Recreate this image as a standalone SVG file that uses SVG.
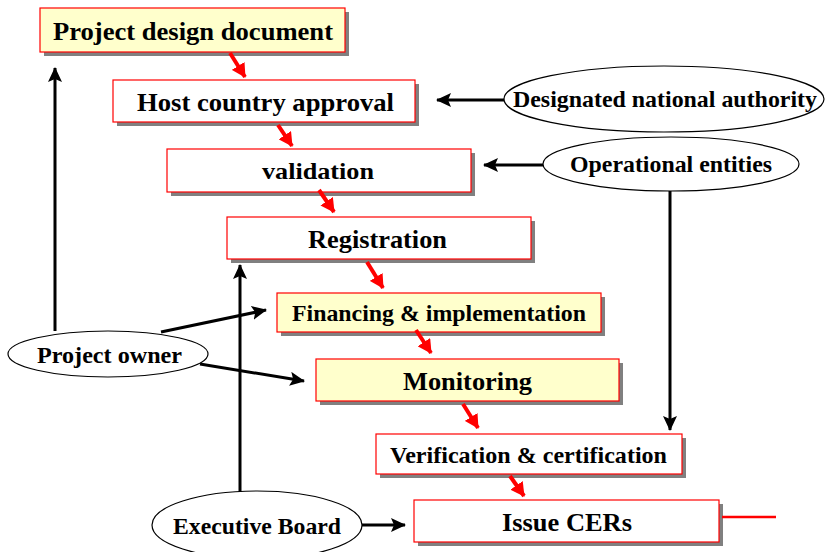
<svg xmlns="http://www.w3.org/2000/svg" width="825" height="552" viewBox="0 0 825 552">
  <style>
    .shadow { fill: #808080; }
    .box { stroke: #ff0000; stroke-width: 1.2; }
    .plain { fill: #ffffff; }
    .hi { fill: #ffffcc; }
    .oval { fill: #ffffff; stroke: #000000; stroke-width: 1.2; }
    text { font-family: "Liberation Serif", "Times New Roman", serif; font-weight: bold; fill: #000000; text-anchor: middle; }
    .blk { stroke: #000000; stroke-width: 3; fill: none; }
    .red { stroke: #ff0000; stroke-width: 4; fill: none; }
  </style>
  <defs>
    <marker id="ahBlack" viewBox="0 0 15 14" markerWidth="15" markerHeight="14" refX="14" refY="7" orient="auto" markerUnits="userSpaceOnUse">
      <path d="M0,0 L15,7 L0,14 L3,7 Z" fill="#000000"/>
    </marker>
    <marker id="ahRed" viewBox="0 0 14 15" markerWidth="14" markerHeight="15" refX="13" refY="7.5" orient="auto" markerUnits="userSpaceOnUse">
      <path d="M0,0 L14,7.5 L0,15 Z" fill="#ff0000"/>
    </marker>
  </defs>

  <!-- process boxes -->
  <g id="pdd">
    <rect class="shadow" x="44" y="12" width="305" height="44"/>
    <rect class="box hi" x="40" y="8" width="305" height="44"/>
    <text x="193" y="40" font-size="26" textLength="280" lengthAdjust="spacingAndGlyphs">Project design document</text>
  </g>
  <g id="host">
    <rect class="shadow" x="117" y="84" width="302" height="42"/>
    <rect class="box plain" x="113" y="80" width="302" height="42"/>
    <text x="265.5" y="111" font-size="26" textLength="257" lengthAdjust="spacingAndGlyphs">Host country approval</text>
  </g>
  <g id="validation">
    <rect class="shadow" x="171" y="153" width="304" height="43"/>
    <rect class="box plain" x="167" y="149" width="304" height="43"/>
    <text x="318" y="179" font-size="24" textLength="112" lengthAdjust="spacingAndGlyphs">validation</text>
  </g>
  <g id="registration">
    <rect class="shadow" x="231" y="221" width="304" height="42"/>
    <rect class="box plain" x="227" y="217" width="304" height="42"/>
    <text x="377.5" y="248" font-size="25" textLength="139" lengthAdjust="spacingAndGlyphs">Registration</text>
  </g>
  <g id="financing">
    <rect class="shadow" x="281" y="297" width="324" height="39"/>
    <rect class="box hi" x="277" y="293" width="324" height="39"/>
    <text x="439" y="321" font-size="23" textLength="294" lengthAdjust="spacingAndGlyphs">Financing &amp; implementation</text>
  </g>
  <g id="monitoring">
    <rect class="shadow" x="320" y="363" width="303" height="42"/>
    <rect class="box hi" x="316" y="359" width="303" height="42"/>
    <text x="467.5" y="390" font-size="26" textLength="129" lengthAdjust="spacingAndGlyphs">Monitoring</text>
  </g>
  <g id="verification">
    <rect class="shadow" x="380" y="438" width="306" height="40"/>
    <rect class="box plain" x="376" y="434" width="306" height="40"/>
    <text x="528.5" y="463" font-size="23" textLength="277" lengthAdjust="spacingAndGlyphs">Verification &amp; certification</text>
  </g>
  <g id="issue">
    <rect class="shadow" x="418" y="504" width="305" height="42"/>
    <rect class="box plain" x="414" y="500" width="305" height="42"/>
    <text x="567" y="531" font-size="26" textLength="130" lengthAdjust="spacingAndGlyphs">Issue CERs</text>
  </g>

  <!-- actors -->
  <g id="dna">
    <ellipse class="oval" cx="664" cy="99" rx="160" ry="33"/>
    <text x="665" y="107" font-size="23" textLength="304" lengthAdjust="spacingAndGlyphs">Designated national authority</text>
  </g>
  <g id="oe">
    <ellipse class="oval" cx="671" cy="164" rx="128" ry="27"/>
    <text x="671" y="172" font-size="23.5" textLength="202" lengthAdjust="spacingAndGlyphs">Operational entities</text>
  </g>
  <g id="owner">
    <ellipse class="oval" cx="108" cy="354" rx="100" ry="23"/>
    <text x="109.5" y="363" font-size="23" textLength="145" lengthAdjust="spacingAndGlyphs">Project owner</text>
  </g>
  <g id="board">
    <ellipse class="oval" cx="257" cy="525" rx="105" ry="34"/>
    <text x="257" y="534" font-size="23" textLength="168" lengthAdjust="spacingAndGlyphs">Executive Board</text>
  </g>

  <!-- connectors -->
  <g id="connectors">
    <line class="red" x1="230" y1="53" x2="245" y2="77" marker-end="url(#ahRed)"/>
    <line class="red" x1="278" y1="125" x2="292" y2="146" marker-end="url(#ahRed)"/>
    <line class="red" x1="319" y1="190" x2="334" y2="212" marker-end="url(#ahRed)"/>
    <line class="red" x1="367" y1="262" x2="383" y2="288" marker-end="url(#ahRed)"/>
    <line class="red" x1="416" y1="330" x2="431" y2="353" marker-end="url(#ahRed)"/>
    <line class="red" x1="463" y1="404" x2="478" y2="428" marker-end="url(#ahRed)"/>
    <line class="red" x1="510" y1="476" x2="524" y2="496" marker-end="url(#ahRed)"/>
    <line x1="722" y1="517" x2="776" y2="517" stroke="#ff0000" stroke-width="2.5"/>

    <line class="blk" x1="55" y1="331" x2="55" y2="68" marker-end="url(#ahBlack)"/>
    <line class="blk" x1="240" y1="492" x2="240" y2="265" marker-end="url(#ahBlack)"/>
    <line class="blk" x1="504" y1="100" x2="437" y2="100" marker-end="url(#ahBlack)"/>
    <line class="blk" x1="543" y1="165" x2="484" y2="165" marker-end="url(#ahBlack)"/>
    <line class="blk" x1="670" y1="191" x2="670" y2="430" marker-end="url(#ahBlack)"/>
    <line class="blk" x1="161" y1="332" x2="266" y2="310" marker-end="url(#ahBlack)"/>
    <line class="blk" x1="200" y1="364" x2="304" y2="381" marker-end="url(#ahBlack)"/>
    <line class="blk" x1="362" y1="525" x2="405" y2="525" marker-end="url(#ahBlack)"/>
  </g>
</svg>
